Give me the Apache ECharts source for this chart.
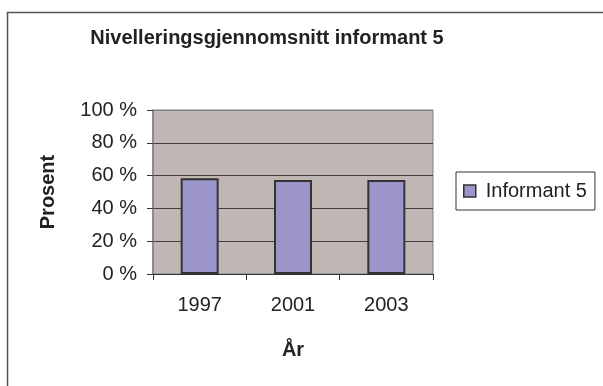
<!DOCTYPE html>
<html>
<head>
<meta charset="utf-8">
<script src="https://cdn.jsdelivr.net/npm/echarts@6/dist/echarts.min.js"></script>
<style>
  html, body { margin: 0; padding: 0; background: #fff; }
  #chart { width: 603px; height: 386px; }
</style>
</head>
<body>
<div id="chart"></div>
<script>
// Chart data
const years = ['1997', '2001', '2003'];
const informant5 = [58.4, 57.3, 57.3];
const seriesName = 'Informant 5';
const titleText = 'Nivelleringsgjennomsnitt informant 5';
const yTitle = 'Prosent';
const xTitle = 'År';

const FONT = 'Arial, "Liberation Sans", sans-serif';
const TEXT = '#222';

const chart = echarts.init(document.getElementById('chart'), null, { renderer: 'canvas' });

chart.setOption({
  animation: false,
  backgroundColor: '#ffffff',
  graphic: [
    {
      type: 'rect',
      silent: true,
      shape: { x: 7.5, y: 12.5, width: 700, height: 500 },
      style: { fill: 'none', stroke: '#555', lineWidth: 1.5 }
    },
    {
      type: 'text',
      x: 267,
      y: 38,
      style: {
        text: titleText,
        fill: TEXT,
        font: 'bold 20px ' + FONT,
        align: 'center',
        verticalAlign: 'middle'
      }
    }
  ],
  grid: {
    left: 153,
    top: 110,
    right: 170,
    bottom: 112,
    show: true,
    backgroundColor: '#c0b7b4',
    borderColor: '#808080',
    borderWidth: 1
  },
  legend: {
    data: [seriesName],
    left: 456,
    top: 172,
    orient: 'vertical',
    padding: [9, 8, 9, 7],
    borderColor: '#333',
    borderWidth: 1,
    backgroundColor: '#fff',
    itemWidth: 12,
    itemHeight: 12,
    icon: 'rect',
    itemStyle: { borderColor: '#333', borderWidth: 1.5 },
    textStyle: { fontFamily: FONT, fontSize: 20, color: TEXT, padding: [0, 0, 0, 5] }
  },
  xAxis: {
    type: 'category',
    data: years,
    boundaryGap: true,
    name: xTitle,
    nameLocation: 'middle',
    nameGap: 66,
    nameTextStyle: { fontFamily: FONT, fontSize: 20, fontWeight: 'bold', color: TEXT },
    axisLine: { lineStyle: { color: '#333', width: 1 } },
    axisTick: { show: true, alignWithLabel: false, length: 6, lineStyle: { color: '#333' } },
    axisLabel: { fontFamily: FONT, fontSize: 20, color: TEXT, margin: 21 }
  },
  yAxis: {
    type: 'value',
    min: 0,
    max: 100,
    interval: 20,
    name: yTitle,
    nameLocation: 'middle',
    nameGap: 95,
    nameRotate: 90,
    nameTextStyle: { fontFamily: FONT, fontSize: 20, fontWeight: 'bold', color: TEXT },
    axisLine: { show: true, lineStyle: { color: '#808080', width: 1.5 } },
    axisTick: { show: true, length: 6, lineStyle: { color: '#333' } },
    axisLabel: { fontFamily: FONT, fontSize: 20, color: TEXT, margin: 16, formatter: '{value} %' },
    splitLine: {
      show: true,
      lineStyle: { color: ['#333', '#404040', '#404040', '#404040', '#404040', '#808080'], width: 1 }
    }
  },
  series: [
    {
      name: seriesName,
      type: 'bar',
      data: informant5,
      barWidth: 38,
      itemStyle: { color: '#9b95c9', borderColor: '#333', borderWidth: 2 }
    }
  ]
});
</script>
</body>
</html>
